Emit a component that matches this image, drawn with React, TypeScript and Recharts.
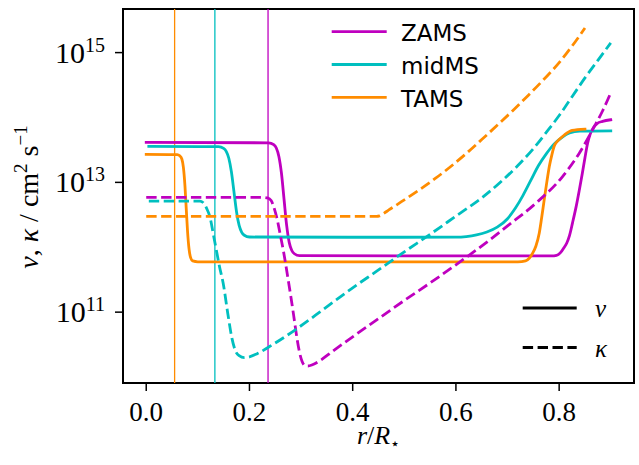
import React from 'react';
import { LineChart, Line, XAxis, YAxis, ReferenceLine, ReferenceArea, Legend } from 'recharts';

// ---- axes ----
const X_TICKS = [0, 0.2, 0.4, 0.6, 0.8];
const Y_TICK_EXPONENTS = [11, 13, 15];
const X_DOMAIN = [-0.045, 0.945];
const Y_DOMAIN_EXP = [9.908, 15.672];

// ---- series meta ----
const STAGES = ['ZAMS', 'midMS', 'TAMS'];
const COLORS = ['#bf00bf', '#00bfbf', '#ff8c00'];
const CORE_EDGE = [0.236, 0.133, 0.055];
const QUANTITIES = ['ν', 'κ'];

// ---- data: [r / R*, log10(value in cm^2 s^-1)] ----
const ZAMS_NU = [
  [0, 13.615], [0.237, 13.61], [0.247, 13.58], [0.252, 13.53], [0.257, 13.4], [0.262, 13.14],
  [0.267, 12.74], [0.272, 12.34], [0.277, 12.075], [0.282, 11.95], [0.287, 11.9], [0.297, 11.87],
  [0.5, 11.866], [0.785, 11.866], [0.795, 11.875], [0.803, 11.92], [0.809, 11.99], [0.815, 12.07],
  [0.82, 12.18], [0.826, 12.38], [0.833, 12.63], [0.839, 12.88], [0.845, 13.145], [0.85, 13.38],
  [0.855, 13.6], [0.86, 13.74], [0.866, 13.84], [0.874, 13.91], [0.884, 13.94], [0.9, 13.965],
];
const MID_NU = [
  [0.005, 13.554], [0.14, 13.55], [0.15, 13.523], [0.155, 13.478], [0.16, 13.372], [0.165, 13.164],
  [0.17, 12.854], [0.175, 12.544], [0.18, 12.336], [0.185, 12.23], [0.19, 12.185], [0.2, 12.158],
  [0.4, 12.154], [0.6, 12.156], [0.62, 12.165], [0.64, 12.19], [0.66, 12.235], [0.68, 12.31],
  [0.7, 12.44], [0.715, 12.6], [0.73, 12.8], [0.745, 13.03], [0.76, 13.26], [0.775, 13.44],
  [0.79, 13.59], [0.805, 13.69], [0.82, 13.76], [0.84, 13.79], [0.9, 13.795],
];
const TAMS_NU = [
  [0, 13.43], [0.06, 13.428], [0.065, 13.41], [0.069, 13.36], [0.072, 13.23], [0.075, 12.95],
  [0.0775, 12.6], [0.08, 12.25], [0.083, 11.97], [0.086, 11.84], [0.09, 11.79], [0.1, 11.776],
  [0.4, 11.775], [0.72, 11.775], [0.735, 11.79], [0.742, 11.83], [0.748, 11.9], [0.755, 12.02],
  [0.7615, 12.22], [0.766, 12.45], [0.771, 12.73], [0.776, 13.0], [0.781, 13.25], [0.786, 13.43],
  [0.79, 13.55], [0.795, 13.62], [0.8, 13.66], [0.81, 13.73], [0.825, 13.8], [0.85, 13.82],
];
const ZAMS_KAPPA = [
  [0, 12.77], [0.225, 12.77], [0.235, 12.76], [0.242, 12.72], [0.248, 12.6], [0.254, 12.42],
  [0.26, 12.18], [0.267, 11.89], [0.274, 11.55], [0.28, 11.25], [0.286, 10.93], [0.292, 10.6],
  [0.297, 10.38], [0.302, 10.24], [0.307, 10.18], [0.313, 10.17], [0.322, 10.19], [0.336, 10.25],
  [0.36, 10.39], [0.4, 10.62], [0.45, 10.9], [0.5, 11.18], [0.55, 11.45], [0.6, 11.73],
  [0.626, 11.88], [0.66, 12.08], [0.7, 12.33], [0.755, 12.68], [0.8066, 13.09], [0.839, 13.45],
  [0.864, 13.8], [0.884, 14.1], [0.9, 14.38],
];
const MID_KAPPA = [
  [0.005, 12.71], [0.104, 12.71], [0.11, 12.69], [0.117, 12.6], [0.124, 12.45], [0.13, 12.2],
  [0.136, 11.95], [0.142, 11.7], [0.149, 11.45], [0.158, 10.98], [0.166, 10.6], [0.172, 10.42],
  [0.18, 10.33], [0.19, 10.3], [0.2, 10.31], [0.215, 10.36], [0.245, 10.5], [0.291, 10.74],
  [0.336, 11.0], [0.368, 11.19], [0.4, 11.375], [0.45, 11.65], [0.5, 11.93], [0.55, 12.2],
  [0.6, 12.48], [0.65, 12.76], [0.69, 13.03], [0.72, 13.26], [0.75, 13.52], [0.775, 13.77],
  [0.8, 14.03], [0.825, 14.32], [0.85, 14.61], [0.875, 14.88], [0.9, 15.15],
];
const TAMS_KAPPA = [
  [0, 12.477], [0.446, 12.477], [0.452, 12.484], [0.458, 12.51], [0.47, 12.575], [0.5, 12.73],
  [0.53, 12.89], [0.56, 13.06], [0.59, 13.245], [0.62, 13.445], [0.65, 13.66], [0.68, 13.88],
  [0.71, 14.105], [0.74, 14.34], [0.77, 14.585], [0.8, 14.845], [0.825, 15.1], [0.85, 15.38],
];

const NU_SERIES = [ZAMS_NU, MID_NU, TAMS_NU];
const KAPPA_SERIES = [ZAMS_KAPPA, MID_KAPPA, TAMS_KAPPA];

const toRows = (pts: number[][]) => pts.map(([r, e]) => ({ r, v: Math.pow(10, e) }));

const SERIF = '"Liberation Serif", "DejaVu Serif", serif';
const SANS = '"DejaVu Sans", sans-serif';
const LW = 2.8;
const DASH = `${(3.7 * LW).toFixed(1)} ${(1.6 * LW).toFixed(1)}`;

const XTick = (props: any) => {
  const { x, y, payload } = props;
  return (
    <text x={x} y={y + 30} textAnchor="middle" fontFamily={SERIF} fontSize={27} fill="#000">
      {Number(payload.value).toFixed(1)}
    </text>
  );
};

const YTick = (props: any) => {
  const { x, y, payload } = props;
  const e = Math.round(Math.log10(payload.value));
  return (
    <text x={x} y={y + 10} textAnchor="end" fontFamily={SERIF} fontSize={30} fill="#000">
      <tspan>10</tspan>
      <tspan dy={-11} fontSize={20}>{e}</tspan>
    </text>
  );
};

const XLabel = () => (
  <text x={378.5} y={444} textAnchor="middle" fontFamily={SERIF} fontSize={26} fill="#000">
    <tspan fontStyle="italic">r</tspan>
    <tspan>/</tspan>
    <tspan fontStyle="italic">R</tspan>
    <tspan dy={5} fontSize={16}>⋆</tspan>
  </text>
);

const YLabel = () => {
  const cx = 38;
  const cy = 197;
  return (
    <text x={cx} y={cy} transform={`rotate(-90, ${cx}, ${cy})`} textAnchor="middle" fontFamily={SERIF} fontSize={28} fill="#000">
      <tspan fontStyle="italic">ν</tspan>
      <tspan>, </tspan>
      <tspan fontStyle="italic">κ</tspan>
      <tspan> / cm</tspan>
      <tspan dy={-11} fontSize={19}>2</tspan>
      <tspan dy={11}> s</tspan>
      <tspan dy={-11} fontSize={19}>−1</tspan>
    </text>
  );
};

const LegendContent = () => (
  <svg width={639} height={465} style={{ position: 'absolute', left: 0, top: 0 }}>
    {STAGES.map((name, i) => {
      const y = 31.7 + i * 32.8;
      return (
        <g key={name}>
          <line x1={331.7} x2={386.7} y1={y} y2={y} stroke={COLORS[i]} strokeWidth={LW} />
          <text x={401} y={y + 9.5} fontFamily={SANS} fontSize={23} fill="#000">{name}</text>
        </g>
      );
    })}
    {QUANTITIES.map((q, i) => {
      const y = 308 + i * 39.5;
      return (
        <g key={q}>
          <line x1={522.7} x2={576.7} y1={y} y2={y} stroke="#000" strokeWidth={LW}
            strokeDasharray={i === 1 ? DASH : undefined} />
          <text x={595} y={y + 9} fontFamily={SERIF} fontStyle="italic" fontSize={25} fill="#000">{q}</text>
        </g>
      );
    })}
  </svg>
);

export default function App() {
  const yDomain = [Math.pow(10, Y_DOMAIN_EXP[0]), Math.pow(10, Y_DOMAIN_EXP[1])];
  const yTicks = Y_TICK_EXPONENTS.map((e) => Math.pow(10, e));
  return (
    <div style={{ position: 'absolute', left: 0, top: 0, width: 639, height: 465, background: '#fff' }}>
      <LineChart width={639} height={465} margin={{ top: 9, right: 5, left: 0, bottom: 0 }}>
        <XAxis
          type="number"
          dataKey="r"
          domain={X_DOMAIN}
          ticks={X_TICKS}
          allowDataOverflow
          height={82}
          tickSize={8}
          tickMargin={0}
          axisLine={false}
          tickLine={{ stroke: '#000', strokeWidth: 1.5 }}
          tick={<XTick />}
          label={XLabel}
        />
        <YAxis
          type="number"
          scale="log"
          domain={yDomain}
          ticks={yTicks}
          allowDataOverflow
          width={123}
          tickSize={8}
          tickMargin={10}
          axisLine={false}
          tickLine={{ stroke: '#000', strokeWidth: 1.5 }}
          tick={<YTick />}
          label={YLabel}
        />
        {CORE_EDGE.map((x, i) => (
          <ReferenceLine key={'core' + i} x={x} stroke={COLORS[i]} strokeWidth={1.3} ifOverflow="visible" />
        ))}
        {NU_SERIES.map((pts, i) => (
          <Line
            key={'nu' + i}
            data={toRows(pts)}
            dataKey="v"
            type="monotone"
            stroke={COLORS[i]}
            strokeWidth={LW}
            strokeLinecap="square"
            dot={false}
            isAnimationActive={false}
          />
        ))}
        {KAPPA_SERIES.map((pts, i) => (
          <Line
            key={'kappa' + i}
            data={toRows(pts)}
            dataKey="v"
            type="monotone"
            stroke={COLORS[i]}
            strokeWidth={LW}
            strokeDasharray={DASH}
            dot={false}
            isAnimationActive={false}
          />
        ))}
        <ReferenceArea
          x1={X_DOMAIN[0]}
          x2={X_DOMAIN[1]}
          y1={yDomain[0]}
          y2={yDomain[1]}
          fill="none"
          fillOpacity={0}
          stroke="#000"
          strokeWidth={2}
          ifOverflow="visible"
        />
        <Legend
          layout="vertical"
          align="center"
          verticalAlign="middle"
          wrapperStyle={{ left: 0, top: 0, width: 639, height: 465, pointerEvents: 'none' }}
          content={LegendContent}
        />
      </LineChart>
    </div>
  );
}
